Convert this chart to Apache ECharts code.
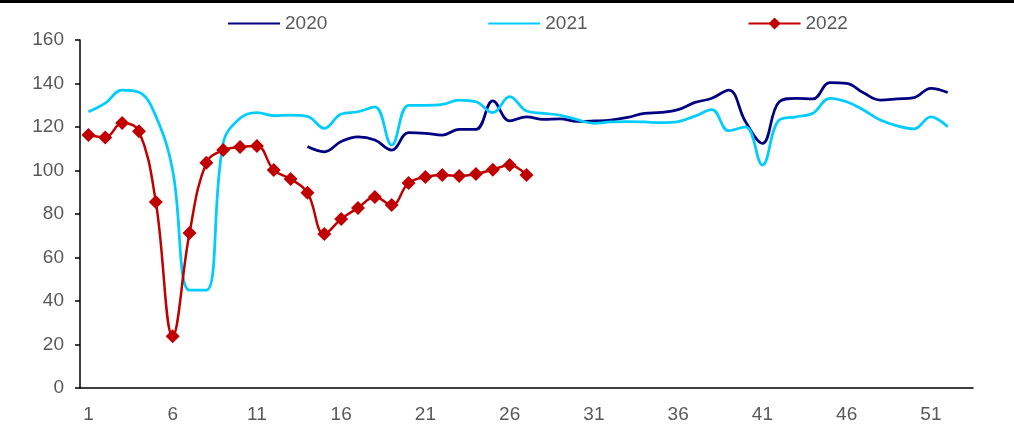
<!DOCTYPE html>
<html>
<head>
<meta charset="utf-8">
<script src="https://cdn.jsdelivr.net/npm/echarts@6/dist/echarts.min.js"></script>
<style>
  html, body { margin: 0; padding: 0; background: #ffffff; }
  #chart { width: 1014px; height: 425px; }
</style>
</head>
<body>
<div id="chart"></div>
<script>
// Week numbers on the category axis (1..53)
const weeks = [];
for (let w = 1; w <= 53; w++) weeks.push(String(w));

// 2020: weekly index from week 14 to week 52 (weeks 1-13 have no data)
const values2020 = [
  null, null, null, null, null, null, null, null, null, null, null, null, null,
  111, 108.6, 113.3, 115.5, 114, 109.4, 117.4, 117.1, 116.3, 118.9, 118.9, 132,
  122.8, 124.7, 123.5, 123.7, 122.6, 122.8, 123.2, 124.4, 126.3, 126.7, 128,
  131.3, 133.2, 137, 122.4, 112.5, 131.6, 133.2, 132.9, 140.4, 140.1, 135.7,
  132.4, 132.9, 133.5, 137.8, 135.9
];

// 2021: weekly index, weeks 1-52
const values2021 = [
  127, 131, 137, 136, 125, 100, 45, 45, 112.6, 124, 126.6, 125.2, 125.5,
  124.9, 119.4, 126, 127, 129.3, 111.7, 130, 130, 130.4, 132.4, 131.6, 126.6,
  134, 127.4, 126.3, 125.4, 123.4, 121.7, 122.3, 122.5, 122.3, 122, 122.5,
  125, 128, 118.3, 120.1, 102.5, 123.2, 124.7, 126.3, 133.2, 131.6, 127.8,
  123.2, 120.5, 119.1, 124.7, 120.1
];

// 2022: weekly index, weeks 1-27
const values2022 = [
  116.3, 115.2, 121.8, 118, 85.5, 23.8, 71.3, 103.6, 109.4, 110.8, 111.3,
  100.2, 96.1, 89.8, 70.8, 77.7, 82.8, 87.8, 84.1, 94.3, 97, 97.9, 97.5,
  98.4, 100.4, 102.5, 97.9
];

const yTicks = { min: 0, max: 160, interval: 20 };

const labelColor = '#595959';
const fontFamily = '"Liberation Sans", Arial, sans-serif';

const chart = echarts.init(document.getElementById('chart'), null, { renderer: 'canvas' });

chart.setOption({
  animation: false,
  backgroundColor: '#ffffff',
  graphic: [
    { type: 'rect', left: 0, top: 0, shape: { width: 1014, height: 3 }, style: { fill: '#000000' } }
  ],
  legend: {
    left: 227,
    top: 14,
    padding: 0,
    itemWidth: 52,
    itemHeight: 15,
    itemGap: 160,
    textStyle: { color: labelColor, fontSize: 19, fontFamily: fontFamily },
    data: [
      { name: '2020', itemStyle: { opacity: 0 } },
      { name: '2021', itemStyle: { opacity: 0 } },
      { name: '2022' }
    ]
  },
  grid: { left: 80, right: 41, top: 40, bottom: 37, containLabel: false },
  xAxis: {
    type: 'category',
    data: weeks,
    boundaryGap: true,
    axisLine: { lineStyle: { color: '#000000', width: 1.5 } },
    axisTick: { interval: 4, length: 5, lineStyle: { color: '#000000', width: 1.5 } },
    axisLabel: { interval: 4, color: labelColor, fontSize: 19, fontFamily: fontFamily, margin: 17 },
    splitLine: { show: false }
  },
  yAxis: {
    type: 'value',
    min: yTicks.min,
    max: yTicks.max,
    interval: yTicks.interval,
    axisLine: { show: true, lineStyle: { color: '#000000', width: 1.5 } },
    axisTick: { show: true, length: 5, lineStyle: { color: '#000000', width: 1.5 } },
    axisLabel: { color: labelColor, fontSize: 19, fontFamily: fontFamily, margin: 16 },
    splitLine: { show: false }
  },
  series: [
    {
      name: '2020',
      type: 'line',
      data: values2020,
      smooth: 0.4,
      symbol: 'none',
      connectNulls: false,
      lineStyle: { color: '#000080', width: 2.75 },
      itemStyle: { color: '#000080' }
    },
    {
      name: '2021',
      type: 'line',
      data: values2021,
      smooth: 0.4,
      symbol: 'none',
      lineStyle: { color: '#00CCFF', width: 2.75 },
      itemStyle: { color: '#00CCFF' }
    },
    {
      name: '2022',
      type: 'line',
      data: values2022,
      smooth: 0.4,
      symbol: 'diamond',
      symbolSize: 14,
      showAllSymbol: true,
      lineStyle: { color: '#C00000', width: 2.5 },
      itemStyle: { color: '#C00000' }
    }
  ]
});
</script>
</body>
</html>
